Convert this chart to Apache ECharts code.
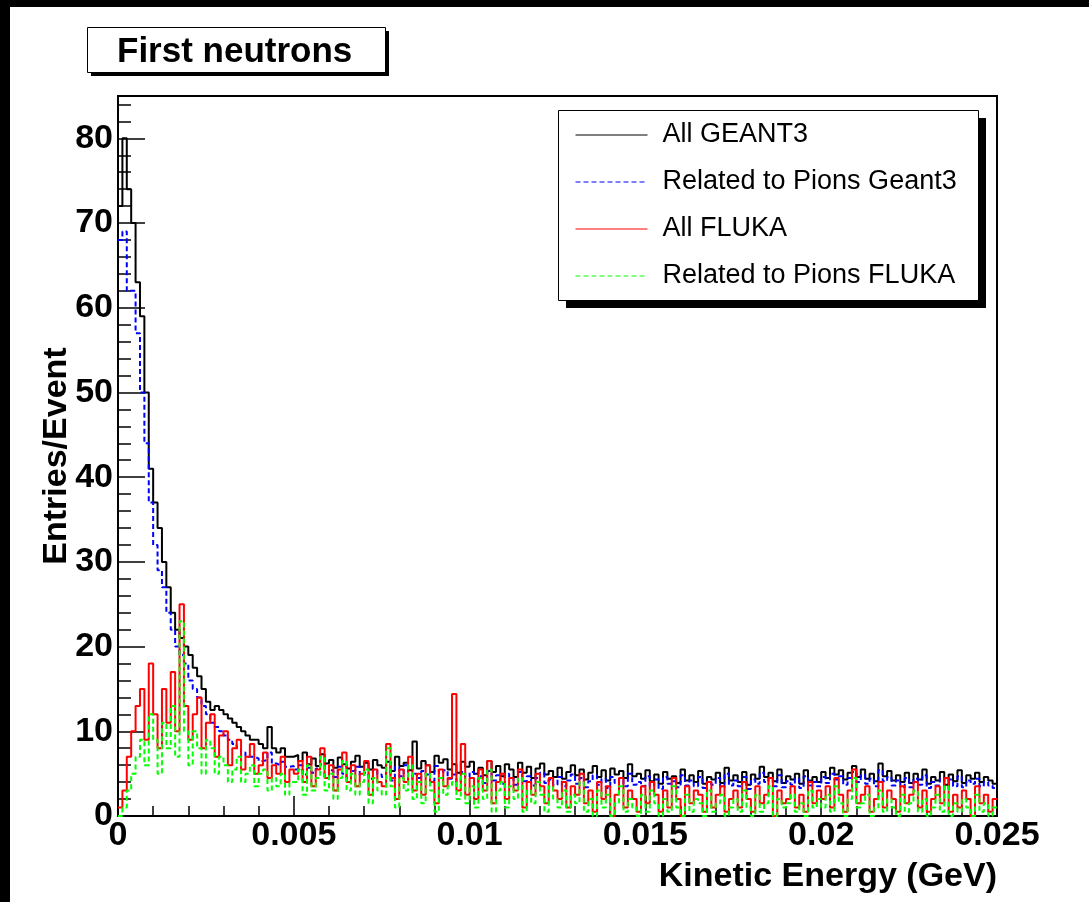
<!DOCTYPE html>
<html><head><meta charset="utf-8">
<script src="https://cdn.jsdelivr.net/npm/echarts@6/dist/echarts.min.js"></script>
<style>html,body{margin:0;padding:0;background:#fff}#c{width:1089px;height:902px}</style>
</head><body><div id="c"></div><script>
const titleText = 'First neutrons';
const xAxisName = 'Kinetic Energy (GeV)';
const yAxisName = 'Entries/Event';
const seriesNames = ['All GEANT3', 'Related to Pions Geant3', 'All FLUKA', 'Related to Pions FLUKA'];
const binWidth = 0.000125;
const xMin = 0, xMax = 0.025, xStep = 0.005;
const yMin = 0, yMax = 85, yStep = 10;
const yMajorTicks = [0, 10, 20, 30, 40, 50, 60, 70, 80];
const yMinorTicks = [2, 4, 6, 8, 12, 14, 16, 18, 22, 24, 26, 28, 32, 34, 36, 38, 42, 44, 46, 48, 52, 54, 56, 58, 62, 64, 66, 68, 72, 74, 76, 78, 82, 84];

const allGeant3 = [
  72, 80, 74, 70, 63, 59, 50, 41, 37, 34, 30, 27, 24, 22, 21, 20, 19, 17.5, 16.5, 15,
  13.5, 12.5, 13, 12.5, 12, 11.5, 11, 10.5, 10, 9.5, 9, 9, 8.5, 8, 10.5, 8, 7.5, 8, 7, 7,
  7.2, 6.5, 7.5, 6.1, 6.8, 5.9, 7.3, 6.2, 6.6, 5.7, 6.9, 6.1, 5.6, 6.4, 7.1, 5.8, 6.3, 5.5, 6.6, 6,
  5.7, 6.4, 5.3, 7, 5.9, 6.3, 5.4, 8.8, 5.6, 6.5, 6, 5.2, 7.1, 6.3, 6.7, 5.5, 6.1, 5.1, 6.4, 5.8,
  6.4, 5, 5.7, 4.8, 6.5, 5.2, 5.9, 4.7, 6.1, 5.5, 4.6, 6.3, 5.1, 5.8, 4.5, 5.6, 6.2, 4.9, 5.3, 4.6,
  5.7, 4.4, 5.2, 6, 4.8, 5.5, 4.3, 5.1, 5.9, 4.6, 5.4, 4.2, 5.6, 4.9, 5.3, 4.5, 6.1, 4.7, 5, 4.4,
  5.4, 4.1, 4.9, 3.8, 5.2, 4.4, 4.7, 3.9, 5.5, 4.2, 4.8, 4, 5.3, 3.8, 4.6, 4.3, 5.1, 3.9, 5.7, 4.2,
  4.8, 4, 5.2, 3.7, 4.9, 4.4, 5.8, 4.6, 5.1, 4.1, 5.5, 3.9, 4.7, 4.3, 5, 3.8, 5.4, 4.2, 4.6, 4,
  5.2, 4.5, 5.7, 4.9, 5.4, 4.3, 5.1, 5.9, 4.6, 5.5, 4.4, 5, 4.1, 6.2, 4.7, 5.3, 4.2, 4.8, 4, 5.1,
  3.9, 5, 4.3, 5.5, 3.8, 4.6, 4.2, 5.2, 3.7, 4.9, 4.1, 5.4, 3.9, 4.8, 4.4, 5.1, 4, 4.6, 4.2, 3.8
];
const pionsGeant3 = [
  68, 69, 62, 62, 57, 50, 44, 37, 32, 29, 27, 24, 22, 20, 19, 18, 16, 15, 14, 13,
  12, 11, 10.5, 10, 9.5, 9, 8.5, 8, 7.5, 7, 7, 6.8, 6.5, 6.6, 7.5, 6.2, 6, 6.4, 5.8, 5.9,
  5.5, 6, 4.9, 5.7, 5.1, 5.6, 6.1, 4.7, 5.4, 4.6, 5.8, 5, 4.5, 5.3, 5.8, 4.8, 5.1, 4.4, 5.5, 4.9,
  4.6, 5.2, 4.2, 5.8, 4.7, 6, 4.3, 5, 4.5, 5.3, 4.9, 4.1, 5.9, 5.1, 5.4, 4.4, 4.9, 4, 5.2, 4.6,
  5.2, 4, 4.7, 3.9, 5.3, 4.2, 4.8, 3.8, 5, 4.5, 3.7, 5.2, 4.1, 4.7, 3.6, 4.5, 5.1, 3.9, 4.3, 3.7,
  4.6, 3.5, 4.2, 4.9, 3.8, 4.5, 3.4, 4.1, 4.8, 3.7, 4.4, 3.3, 4.6, 3.9, 4.3, 3.5, 5, 3.7, 4, 3.5,
  4.7, 3.5, 4.3, 3.2, 4.6, 3.8, 4.1, 3.4, 4.8, 3.6, 4.2, 3.5, 4.6, 3.3, 4, 3.7, 4.5, 3.4, 5, 3.6,
  4.2, 3.5, 4.6, 3.2, 4.3, 3.8, 5.1, 4, 4.5, 3.5, 4.8, 3.4, 4.1, 3.7, 4.4, 3.3, 4.7, 3.6, 4, 3.5,
  4.6, 3.9, 5, 4.3, 4.7, 3.7, 4.5, 5.2, 4, 4.8, 3.8, 4.4, 3.5, 5.4, 4.1, 4.6, 3.6, 4.2, 3.4, 4.5,
  3.4, 4.4, 3.7, 4.8, 3.3, 4, 3.6, 4.5, 3.2, 4.3, 3.5, 4.7, 3.4, 4.2, 3.8, 4.4, 3.5, 4, 3.6, 3.3
];
const allFluka = [
  1, 3, 7, 10, 13, 15, 9, 18, 12, 8, 15, 11, 17, 10, 25, 13, 9, 12, 14, 8,
  11, 12, 7, 9.5, 10, 6, 8, 9, 5.5, 7, 8.5, 5, 6, 7.5, 4.5, 6, 5, 7, 4, 5.5,
  5, 6.5, 4, 7, 3.5, 5.5, 8, 4.5, 6, 3, 5.5, 7.5, 4, 6, 3.5, 5, 6.5, 2.5, 5.5, 4,
  3.5, 8.5, 4.5, 2, 5.5, 4, 7, 3, 5, 2.5, 6, 4, 1.5, 5.5, 3.5, 4.5, 14.4, 3, 8.5, 2.5,
  4.5, 2, 5.5, 3, 6.5, 1.5, 4, 5, 2, 4.5, 3, 5.5, 1, 4, 2.5, 5, 3.5, 1.5, 4.5, 3,
  2, 4, 1, 3.5, 2.5, 5, 1.5, 3, 0.5, 4, 2, 3.5, 0, 2.5, 4.5, 1, 3, 2, 0.5, 3.5,
  1.5, 4, 2.5, 0.5, 3, 1, 4.5, 2, 0, 3.5, 1.5, 3, 2.5, 0.5, 4, 1, 2.5, 3.5, 0.5, 2,
  3, 1, 4, 2, 0.5, 3.5, 1.5, 2.5, 4.5, 0, 3, 1.5, 2, 3.5, 1, 2.5, 0.5, 4, 1.5, 3,
  2, 3.5, 1, 4.5, 2.5, 0.5, 3, 5.5, 1.5, 2.5, 3.5, 0.5, 2, 4, 1, 3, 2, 0.5, 3.5, 1.5,
  2.5, 4, 1, 3, 0.5, 2, 3.5, 1.5, 4.5, 0.5, 2.5, 1, 3, 2, 0, 3.5, 1.5, 2.5, 0.5, 2
];
const pionsFluka = [
  0, 1, 3, 5, 7, 9, 6, 12, 9, 5, 11, 8, 13, 7, 23, 10, 6, 10, 8, 5,
  9, 8, 5, 7, 6, 4, 5.5, 7, 4, 5, 6, 3.5, 5, 5.5, 3, 4.5, 3.5, 5, 2.5, 4,
  4, 5.5, 2.5, 6, 3, 4.5, 7, 3, 5, 2, 4.5, 6.5, 3, 5, 2.5, 4, 5.5, 1.5, 4.5, 3,
  2.5, 8, 3.5, 1, 4.5, 3, 6, 2, 4, 1.5, 5, 3, 0.5, 4.5, 2.5, 3.5, 4, 2, 5, 1.5,
  3.5, 1, 4.5, 2, 5.5, 0.5, 3, 4, 1, 3.5, 2, 4.5, 0.5, 3, 1.5, 4, 2.5, 0.5, 3.5, 2,
  1, 3, 0.5, 2.5, 1.5, 4, 0.5, 2, 0, 3, 1, 2.5, 0, 1.5, 3.5, 0.5, 2, 1, 0, 2.5,
  0.5, 3, 1.5, 0, 2, 0.5, 3.5, 1, 0, 2.5, 0.5, 2, 1.5, 0, 3, 0.5, 1.5, 2.5, 0, 1,
  2, 0.5, 3, 1, 0, 2.5, 0.5, 1.5, 3.5, 0, 2, 1, 1.5, 2.5, 0.5, 1.5, 0, 3, 1, 2,
  1, 2.5, 0.5, 3.5, 1.5, 0, 2, 4.5, 1, 1.5, 2.5, 0, 1, 3, 0.5, 2, 1, 0, 2.5, 0.5,
  1.5, 3, 0.5, 2, 0, 1, 2.5, 0.5, 3.5, 0, 1.5, 0.5, 2, 1, 0, 2.5, 0.5, 1.5, 0, 1
];

const FONT = 'Liberation Sans';
function toSteps(vals) {
  const pts = vals.map((v, i) => [i * binWidth, v]);
  pts.push([vals.length * binWidth, vals[vals.length - 1]]);
  return pts;
}
const seriesDefs = [
  { name: seriesNames[0], data: allGeant3, color: '#000000', type: 'solid' },
  { name: seriesNames[1], data: pionsGeant3, color: '#0000ff', type: [5, 3] },
  { name: seriesNames[2], data: allFluka, color: '#ff0000', type: 'solid' },
  { name: seriesNames[3], data: pionsFluka, color: '#00ff00', type: [5, 3] }
];

const chart = echarts.init(document.getElementById('c'), null, { renderer: 'canvas' });
chart.setOption({
  animation: false,
  backgroundColor: '#ffffff',
  title: {
    text: titleText, left: 117, top: 33, padding: 0,
    textStyle: { fontFamily: FONT, fontWeight: 'bold', fontSize: 35, lineHeight: 39, color: '#000' }
  },
  legend: {
    orient: 'vertical', left: 558, top: 110,
    padding: [10, 23, 10, 17],
    itemGap: 17, itemWidth: 72, itemHeight: 14,
    lineStyle: { width: 1 },
    itemStyle: { opacity: 0, borderWidth: 0 },
    textStyle: { fontFamily: FONT, fontSize: 27, color: '#000', lineHeight: 30, padding: [0, 0, 0, 10] },
    data: seriesNames
  },
  grid: {
    left: 118, top: 96, right: 92, bottom: 86,
    show: true, borderColor: '#000', borderWidth: 2, backgroundColor: 'transparent',
    outerBoundsMode: 'none'
  },
  xAxis: {
    type: 'value', min: xMin, max: xMax, interval: xStep,
    name: xAxisName, nameLocation: 'end', nameGap: 0, nameMoveOverlap: false,
    nameTextStyle: { fontFamily: FONT, fontWeight: 'bold', fontSize: 34, color: '#000', align: 'right', verticalAlign: 'top', padding: [44, 0, 0, 0] },
    axisLine: { show: true, onZero: false, lineStyle: { color: '#000', width: 2 } },
    axisTick: { show: true, inside: true, length: 20, lineStyle: { color: '#000', width: 1.5 } },
    minorTick: { show: true, splitNumber: 5, length: 10, lineStyle: { color: '#000', width: 1.5 } },
    axisLabel: { fontFamily: FONT, fontWeight: 'bold', fontSize: 34, color: '#000', margin: 3 },
    splitLine: { show: false }, minorSplitLine: { show: false }
  },
  yAxis: [{
    type: 'value', min: yMin, max: yMax, interval: yStep,
    name: yAxisName, nameLocation: 'middle', nameGap: 44, nameRotate: 90, nameMoveOverlap: false,
    nameTextStyle: { fontFamily: FONT, fontWeight: 'bold', fontSize: 34, color: '#000' },
    axisLine: { show: true, onZero: false, lineStyle: { color: '#000', width: 2 } },
    axisTick: { show: true, inside: true, length: 27, customValues: yMajorTicks, lineStyle: { color: '#000', width: 1.5 } },
    axisLabel: { fontFamily: FONT, fontWeight: 'bold', fontSize: 34, color: '#000', margin: 5, customValues: yMajorTicks },
    splitLine: { show: false }
  }, {
    type: 'value', min: yMin, max: yMax, interval: yStep, position: 'left',
    axisLine: { show: false },
    axisTick: { show: true, inside: true, length: 13, customValues: yMinorTicks, lineStyle: { color: '#000', width: 1.5 } },
    axisLabel: { show: false },
    splitLine: { show: false }
  }],
  series: seriesDefs.map(s => ({
    name: s.name, type: 'line', step: 'end', symbol: 'none',
    data: toSteps(s.data),
    color: s.color,
    lineStyle: { color: s.color, width: 2, type: s.type },
    clip: true
  })),
  graphic: [
    { type: 'rect', z: 3, shape: { x: 91, y: 31, width: 298, height: 45 }, style: { fill: '#000' } },
    { type: 'rect', z: 3, shape: { x: 87.5, y: 27.5, width: 298, height: 45 }, style: { fill: '#fff', stroke: '#000', lineWidth: 1 } },
    { type: 'rect', z: 3, shape: { x: 566, y: 118, width: 420, height: 190 }, style: { fill: '#000' } },
    { type: 'rect', z: 3, shape: { x: 558.5, y: 110.5, width: 420, height: 190 }, style: { fill: '#fff', stroke: '#000', lineWidth: 1 } },
    { type: 'rect', z: 100, shape: { x: 0, y: 0, width: 10, height: 902 }, style: { fill: '#000' } },
    { type: 'rect', z: 100, shape: { x: 0, y: 0, width: 1089, height: 7 }, style: { fill: '#000' } }
  ]
});
</script></body></html>
